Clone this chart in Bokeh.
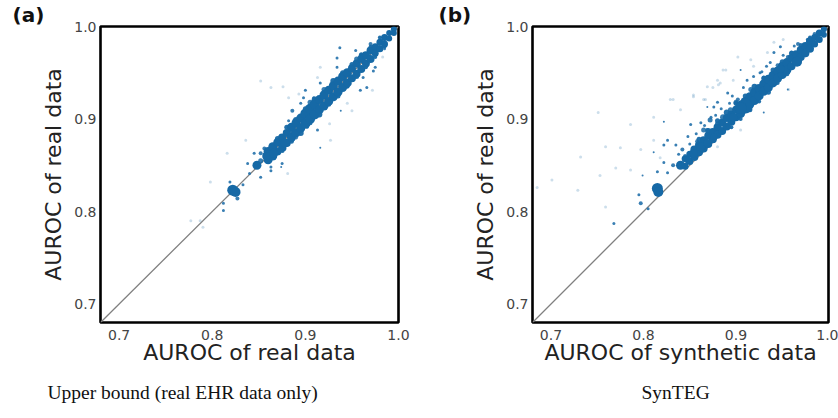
from bokeh.plotting import figure
from bokeh.layouts import row
from bokeh.models import FixedTicker, Title
from bokeh.embed import file_html
from bokeh.resources import INLINE

# ---------------- data ----------------
axis_lo, axis_hi = 0.68, 1.0
ticks = [0.7, 0.8, 0.9, 1.0]
tick_labels = ["0.7", "0.8", "0.9", "1.0"]

# Panel (a): real vs real
a_band_x = [0.860, 0.865, 0.870, 0.875, 0.880, 0.885, 0.890, 0.895, 0.900, 0.905, 0.910, 0.915, 0.920, 0.925,
            0.930, 0.935, 0.940, 0.945, 0.950, 0.955, 0.960, 0.965, 0.970, 0.975, 0.980, 0.985, 0.990, 0.995]
a_band_up = [0.865, 0.870, 0.875, 0.880, 0.885, 0.891, 0.896, 0.901, 0.906, 0.911, 0.916, 0.921, 0.926, 0.931,
             0.936, 0.941, 0.946, 0.950, 0.955, 0.960, 0.965, 0.969, 0.974, 0.978, 0.983, 0.988, 0.993, 0.997]
a_band_lo = [0.856, 0.860, 0.865, 0.869, 0.874, 0.880, 0.885, 0.890, 0.895, 0.900, 0.905, 0.910, 0.914, 0.919,
             0.924, 0.929, 0.934, 0.939, 0.944, 0.949, 0.954, 0.960, 0.965, 0.971, 0.976, 0.981, 0.987, 0.993]
a_band_size = [9, 9, 8, 8, 8, 9, 9, 9, 10, 10, 10, 9, 9, 9, 9, 9, 9, 9, 8, 8, 8, 8, 8, 7, 7, 7, 6, 6]

a_edge_x = [0.870, 0.880, 0.890, 0.900, 0.910, 0.920, 0.930, 0.940, 0.950, 0.960, 0.970, 0.980,
            0.875, 0.885, 0.895, 0.905, 0.915, 0.925, 0.935, 0.945, 0.955, 0.965, 0.975, 0.985]
a_edge_y = [0.879, 0.891, 0.899, 0.911, 0.921, 0.929, 0.941, 0.950, 0.959, 0.969, 0.978, 0.988,
            0.866, 0.876, 0.885, 0.896, 0.905, 0.916, 0.925, 0.936, 0.946, 0.956, 0.967, 0.978]
a_edge_size = [5, 5, 6, 5, 6, 5, 6, 5, 5, 5, 4, 4, 5, 5, 6, 5, 6, 5, 5, 5, 5, 4, 4, 4]

a_blob_x = [0.822, 0.825, 0.848, 0.858, 0.866, 0.878]
a_blob_y = [0.823, 0.821, 0.850, 0.860, 0.863, 0.874]
a_blob_size = [11, 10, 9, 8, 9, 9]

a_pt_x = [0.827, 0.812, 0.812, 0.819, 0.833, 0.840, 0.838, 0.852, 0.863, 0.845, 0.852, 0.874, 0.886, 0.895,
          0.882, 0.873, 0.866, 0.852, 0.863, 0.875, 0.902, 0.913, 0.926, 0.937, 0.900, 0.937, 0.954, 0.962,
          0.966, 0.975, 0.960, 0.909, 0.934, 0.895, 0.884, 0.916, 0.938, 0.948, 0.959, 0.934, 0.916, 0.898,
          0.904, 0.973, 0.981, 0.877, 0.869, 0.856, 0.890, 0.905, 0.920, 0.945, 0.955, 0.930, 0.965, 0.985, 0.970]
a_pt_y = [0.814, 0.809, 0.801, 0.832, 0.829, 0.841, 0.852, 0.837, 0.844, 0.863, 0.863, 0.848, 0.909, 0.917,
          0.898, 0.880, 0.871, 0.855, 0.848, 0.852, 0.891, 0.888, 0.934, 0.939, 0.931, 0.977, 0.974, 0.945,
          0.934, 0.956, 0.970, 0.923, 0.956, 0.891, 0.885, 0.869, 0.909, 0.942, 0.931, 0.966, 0.939, 0.923,
          0.898, 0.952, 0.985, 0.868, 0.875, 0.868, 0.880, 0.918, 0.932, 0.935, 0.965, 0.922, 0.958, 0.976, 0.981]
a_pt_size = [4, 3, 3, 3, 3, 3, 3, 3, 3, 3, 4, 2, 4, 3,
             3, 4, 5, 5, 3, 3, 3, 3, 3, 4, 3, 3, 3, 3,
             3, 3, 4, 3, 3, 7, 6, 2, 2, 4, 3, 3, 3, 3,
             4, 3, 3, 5, 6, 4, 4, 5, 5, 4, 5, 4, 4, 3, 4]

a_faint_x = [0.777, 0.787, 0.798, 0.816, 0.790, 0.836, 0.881, 0.926, 0.913, 0.893, 0.972, 0.983, 0.945,
             0.950, 0.852, 0.863, 0.916, 0.882, 0.876, 0.927]
a_faint_y = [0.790, 0.790, 0.832, 0.863, 0.783, 0.877, 0.841, 0.895, 0.945, 0.927, 0.931, 0.967, 0.917,
             0.909, 0.941, 0.934, 0.956, 0.923, 0.935, 0.877]

# Panel (b): synthetic vs real
b_band_x = [0.845, 0.850, 0.855, 0.860, 0.865, 0.870, 0.875, 0.880, 0.885, 0.890, 0.895, 0.900, 0.905, 0.910,
            0.915, 0.920, 0.925, 0.930, 0.935, 0.940, 0.945, 0.950, 0.955, 0.960, 0.965, 0.970, 0.975, 0.980,
            0.985, 0.990, 0.995]
b_band_up = [0.857, 0.862, 0.867, 0.872, 0.877, 0.882, 0.886, 0.891, 0.896, 0.901, 0.905, 0.910, 0.915, 0.919,
             0.924, 0.929, 0.933, 0.938, 0.943, 0.947, 0.952, 0.957, 0.961, 0.966, 0.970, 0.975, 0.979, 0.984,
             0.988, 0.993, 0.997]
b_band_lo = [0.849, 0.854, 0.859, 0.864, 0.868, 0.873, 0.878, 0.883, 0.887, 0.892, 0.897, 0.902, 0.906, 0.911,
             0.916, 0.920, 0.925, 0.930, 0.934, 0.939, 0.944, 0.948, 0.953, 0.957, 0.962, 0.967, 0.971, 0.976,
             0.981, 0.986, 0.991]
b_band_size = [7, 7, 8, 8, 8, 8, 8, 8, 8, 8, 8, 8, 9, 9, 9, 9, 9, 9, 9, 9, 9, 9, 9, 8, 8, 8, 8, 8, 7, 7, 6]

b_edge_x = [0.860, 0.870, 0.880, 0.890, 0.900, 0.910, 0.920, 0.930, 0.940, 0.950, 0.960, 0.970, 0.980,
            0.895, 0.905, 0.915, 0.925, 0.935, 0.945, 0.955, 0.965, 0.975, 0.985]
b_edge_y = [0.878, 0.887, 0.898, 0.907, 0.917, 0.925, 0.935, 0.944, 0.953, 0.962, 0.971, 0.980, 0.988,
            0.891, 0.900, 0.910, 0.919, 0.929, 0.939, 0.949, 0.960, 0.969, 0.980]
b_edge_size = [5, 6, 5, 6, 5, 5, 6, 5, 5, 5, 5, 4, 4, 4, 4, 5, 4, 5, 4, 5, 4, 4, 4]

b_blob_x = [0.815, 0.816, 0.840, 0.848, 0.854, 0.862, 0.869, 0.876, 0.880, 0.897, 0.910, 0.905, 0.966, 0.948]
b_blob_y = [0.825, 0.821, 0.850, 0.856, 0.863, 0.870, 0.874, 0.881, 0.891, 0.902, 0.914, 0.912, 0.962, 0.954]
b_blob_size = [11, 10, 9, 7, 8, 9, 8, 7, 6, 8, 15, 12, 10, 8]

b_pt_x = [0.797, 0.795, 0.805, 0.768, 0.799, 0.842, 0.822, 0.815, 0.826, 0.835, 0.811, 0.822, 0.826, 0.848,
          0.851, 0.862, 0.869, 0.873, 0.876, 0.822, 0.865, 0.872, 0.886, 0.894, 0.902, 0.891, 0.880, 0.869,
          0.916, 0.923, 0.912, 0.905, 0.926, 0.937, 0.941, 0.948, 0.956, 0.967, 0.977, 0.956, 0.930, 0.858,
          0.845, 0.832, 0.880, 0.900, 0.930, 0.945, 0.960, 0.985, 0.915, 0.940,
          0.857, 0.866, 0.884, 0.893, 0.908, 0.919, 0.933, 0.951, 0.963, 0.838, 0.850, 0.878, 0.896, 0.928]
b_pt_y = [0.809, 0.818, 0.803, 0.787, 0.839, 0.867, 0.853, 0.843, 0.842, 0.872, 0.864, 0.872, 0.877, 0.881,
          0.894, 0.896, 0.888, 0.902, 0.913, 0.897, 0.888, 0.899, 0.902, 0.910, 0.921, 0.928, 0.918, 0.913,
          0.932, 0.935, 0.942, 0.953, 0.950, 0.961, 0.972, 0.978, 0.967, 0.981, 0.986, 0.932, 0.907, 0.876,
          0.860, 0.850, 0.895, 0.918, 0.945, 0.958, 0.972, 0.992, 0.925, 0.949,
          0.884, 0.893, 0.911, 0.917, 0.934, 0.946, 0.957, 0.969, 0.979, 0.862, 0.873, 0.904, 0.925, 0.951]
b_pt_size = [4, 3, 3, 3, 2, 4, 3, 3, 3, 3, 2, 3, 3, 3,
             3, 3, 4, 3, 3, 2, 5, 5, 6, 5, 4, 3, 3, 2,
             5, 4, 3, 2, 3, 3, 3, 3, 4, 4, 3, 2, 2, 4,
             4, 4, 5, 5, 4, 4, 4, 4, 6, 6,
             3, 3, 3, 3, 3, 3, 3, 3, 3, 3, 3, 3, 3, 3]

b_faint_x = [0.759, 0.753, 0.797, 0.775, 0.770, 0.786, 0.751, 0.867, 0.832, 0.811, 0.854, 0.875, 0.881, 0.916,
             0.886, 0.880, 0.869, 0.854, 0.840, 0.902, 0.905, 0.880, 0.685, 0.701, 0.732, 0.729, 0.759, 0.786,
             0.811, 0.818, 0.829, 0.865, 0.883, 0.889, 0.897, 0.919, 0.934, 0.941, 0.951, 0.957]
b_faint_y = [0.870, 0.839, 0.867, 0.869, 0.847, 0.845, 0.907, 0.921, 0.921, 0.902, 0.926, 0.934, 0.937, 0.964,
             0.953, 0.942, 0.935, 0.924, 0.910, 0.967, 0.888, 0.870, 0.826, 0.834, 0.859, 0.823, 0.805, 0.894,
             0.877, 0.858, 0.921, 0.921, 0.939, 0.953, 0.942, 0.957, 0.972, 0.983, 0.986, 0.932]

diag = [axis_lo, axis_hi]

POINT = "#1669a6"


def make_panel(width, frame_left, frame_right, band, edge, blobs, pts, faint,
               xlabel, letter, letter_off, caption, cap_off):
    p = figure(width=width, height=418, x_range=(axis_lo, axis_hi), y_range=(axis_lo, axis_hi),
               output_backend="svg", toolbar_location=None,
               min_border_left=frame_left, min_border_right=frame_right,
               min_border_top=26, min_border_bottom=96)
    p.background_fill_color = "white"
    p.border_fill_color = "white"
    p.outline_line_color = "black"
    p.outline_line_width = 2.6
    p.xgrid.visible = False
    p.ygrid.visible = False
    for ax in (p.xaxis[0], p.yaxis[0]):
        ax.ticker = FixedTicker(ticks=ticks)
        ax.major_label_overrides = dict(zip(ticks, tick_labels))
        ax.axis_line_color = None
        ax.major_tick_line_color = None
        ax.minor_tick_line_color = None
        ax.major_tick_out = 0
        ax.major_tick_in = 0
        ax.minor_tick_out = 0
        ax.major_label_text_font = "DejaVu Sans"
        ax.major_label_text_font_size = "14px"
        ax.major_label_text_color = "#444444"
        ax.axis_label_text_font = "DejaVu Sans"
        ax.axis_label_text_font_size = "22px"
        ax.axis_label_text_font_style = "normal"
        ax.axis_label_text_color = "#222222"
    p.xaxis.major_label_standoff = 7
    p.xaxis.axis_label_standoff = -3
    p.yaxis.major_label_standoff = 4
    p.yaxis.axis_label_standoff = 5
    p.xaxis.axis_label = xlabel
    p.yaxis.axis_label = "AUROC of real data"

    p.line(diag, diag, line_color="#808080", line_width=1.3)

    fx, fy = faint
    p.scatter(fx, fy, size=3, fill_color=POINT, fill_alpha=0.22, line_color=None)
    px_, py_, ps_ = pts
    p.scatter(px_, py_, size=ps_, fill_color=POINT, fill_alpha=0.85, line_color=None)
    ex, ey, es = edge
    p.scatter(ex, ey, size=es, fill_color=POINT, fill_alpha=0.95, line_color=None)
    bx, bup, blo, bs = band
    p.scatter(bx, bup, size=bs, fill_color=POINT, fill_alpha=1.0, line_color=None)
    p.scatter(bx, blo, size=bs, fill_color=POINT, fill_alpha=1.0, line_color=None)
    kx, ky, ks = blobs
    p.scatter(kx, ky, size=ks, fill_color=POINT, fill_alpha=1.0, line_color=None)

    p.add_layout(Title(text=caption, align="left", offset=cap_off, standoff=24,
                       text_font="Liberation Serif", text_font_size="19.5px", text_font_style="normal",
                       text_color="#111111"), "below")
    p.add_layout(Title(text="(" + letter + ")", align="left", offset=letter_off, standoff=0,
                       text_font="DejaVu Sans", text_font_size="20px", text_font_style="bold",
                       text_color="#111111"), "above")
    return p


pa = make_panel(420, 100, 22,
                (a_band_x, a_band_up, a_band_lo, a_band_size),
                (a_edge_x, a_edge_y, a_edge_size),
                (a_blob_x, a_blob_y, a_blob_size),
                (a_pt_x, a_pt_y, a_pt_size),
                (a_faint_x, a_faint_y),
                "AUROC of real data", "a", -88, "Upper bound (real EHR data only)", -53)
pb = make_panel(418, 112, 10,
                (b_band_x, b_band_up, b_band_lo, b_band_size),
                (b_edge_x, b_edge_y, b_edge_size),
                (b_blob_x, b_blob_y, b_blob_size),
                (b_pt_x, b_pt_y, b_pt_size),
                (b_faint_x, b_faint_y),
                "AUROC of synthetic data", "b", -94, "SynTEG", 109)

layout = row(pa, pb, spacing=0)
open("out.html", "w").write(file_html(layout, INLINE))
